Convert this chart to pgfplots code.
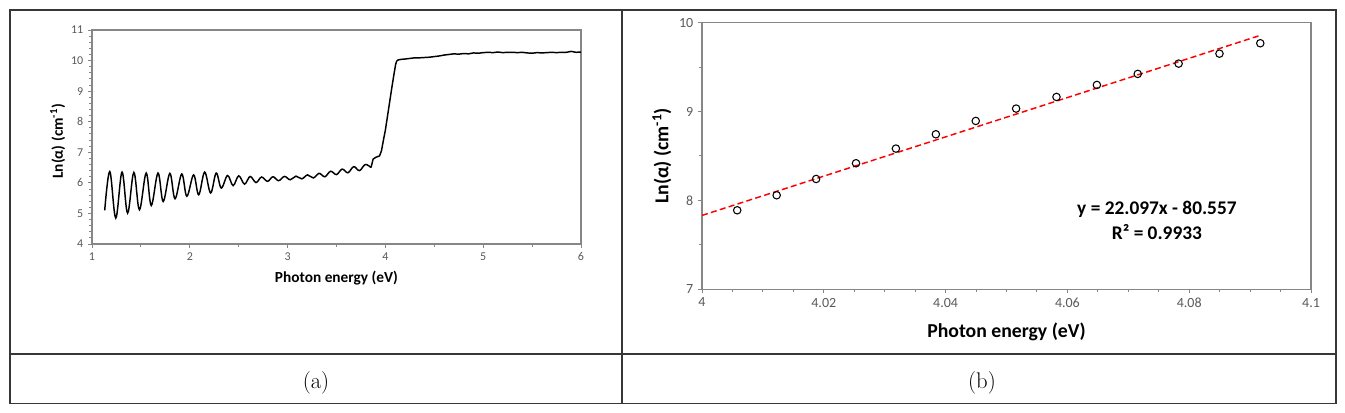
\documentclass[border=0pt]{standalone}
\usepackage{fontspec}
\usepackage{pgfplots}
\pgfplotsset{compat=1.18}
\newfontfamily\carlito{Carlito}
\definecolor{axgray}{RGB}{134,134,134}
\definecolor{tickgray}{RGB}{89,89,89}
\definecolor{tabline}{RGB}{55,55,55}
\pgfplotsset{
  excelax/.style={
    scale only axis, anchor=south west,
    axis line style={axgray, line width=0.8pt},
    every tick/.style={axgray, line width=0.7pt},
    tick align=outside,
    xtick pos=bottom, ytick pos=left,
    major tick length=3pt, minor tick length=2.2pt,
    /pgf/number format/assume math mode=true,
    scaled ticks=false,
    ticklabel style={text=tickgray},
    xlabel style={at={(axis description cs:0.5,-0.16)}, anchor=center},
  },
}
\begin{document}
\begin{tikzpicture}[x=0.75pt,y=0.75pt]
\useasboundingbox (0,0) rectangle (1345,413);
\draw[tabline, line width=1.3pt] (10,403) rectangle (1336,9.5);
\draw[tabline, line width=1.3pt] (622,403) -- (622,9.5);
\draw[tabline, line width=1.3pt] (10,59.3) -- (1336,59.3);
\node[font=\fontsize{17}{20}\selectfont] at (316,30) {(a)};
\node[font=\fontsize{17}{20}\selectfont] at (982,30) {(b)};

% ---------------- panel (a) ----------------
\begin{axis}[excelax,
  at={(69pt,126.75pt)}, width=366.75pt, height=160.5pt,
  xmin=1, xmax=6, ymin=4, ymax=11,
  xtick={1,2,3,4,5,6}, ytick={4,5,6,7,8,9,10,11},
  minor x tick num=1, minor y tick num=4,
  ticklabel style={font=\carlito\fontsize{9}{10}\selectfont},
  label style={font=\carlito\bfseries\fontsize{11.5}{13}\selectfont},
  xlabel={Photon energy (eV)},
  ylabel={Ln(α) (cm\textsuperscript{-1})},
  ylabel style={at={(axis description cs:-0.07,0.48)}, anchor=center},
]
\addplot[black, line width=1.1pt, smooth, tension=0.6] coordinates {
(1.130,5.10) (1.182,6.37) (1.243,4.85) (1.307,6.35) (1.364,5.01)
(1.428,6.34) (1.485,5.12) (1.554,6.32) (1.606,5.26) (1.675,6.32)
(1.728,5.39) (1.796,6.31) (1.849,5.48) (1.918,6.29) (1.970,5.56)
(2.039,6.26) (2.091,5.61) (2.152,6.35) (2.213,5.67) (2.270,6.32)
(2.322,5.83) (2.386,6.24) (2.443,5.91) (2.500,6.23) (2.560,5.96)
(2.617,6.21) (2.677,6.01) (2.734,6.19) (2.795,6.05) (2.850,6.20)
(2.908,6.07) (2.968,6.21) (3.027,6.10) (3.086,6.22) (3.145,6.13)
(3.204,6.26) (3.263,6.16) (3.322,6.31) (3.381,6.20) (3.440,6.38)
(3.500,6.27) (3.558,6.45) (3.617,6.33) (3.676,6.53) (3.735,6.40)
(3.794,6.60) (3.853,6.50)
};
\addplot[black, line width=1.1pt, line join=round] coordinates {
(3.853,6.50) (3.875,6.78) (3.905,6.84) (3.940,6.88) (3.960,7.05)
(3.980,7.40) (4.000,7.73) (4.020,8.15) (4.047,8.72) (4.070,9.20)
(4.090,9.60) (4.105,9.88) (4.115,9.98) (4.130,10.02) (4.160,10.04)
(4.200,10.05) (4.250,10.07) (4.300,10.09) (4.350,10.09) (4.400,10.10)
(4.450,10.11) (4.500,10.13) (4.550,10.15) (4.600,10.18) (4.650,10.20)
(4.700,10.22) (4.750,10.21) (4.800,10.23) (4.850,10.22) (4.900,10.25)
(4.950,10.24) (5.000,10.26) (5.050,10.27) (5.100,10.26) (5.150,10.28)
(5.200,10.26) (5.250,10.27) (5.300,10.27) (5.350,10.26) (5.400,10.27)
(5.450,10.25) (5.500,10.24) (5.550,10.26) (5.600,10.25) (5.650,10.26)
(5.700,10.27) (5.750,10.26) (5.800,10.27) (5.850,10.27) (5.900,10.30)
(5.950,10.27) (6.000,10.28)
};
\end{axis}

% ---------------- panel (b) ----------------
\begin{axis}[excelax,
  at={(526.5pt,92.775pt)}, width=456.75pt, height=200pt,
  xmin=4, xmax=4.1, ymin=7, ymax=10,
  xtick={4,4.02,4.04,4.06,4.08,4.1}, ytick={7,8,9,10},
  minor x tick num=3, minor y tick num=1,
  ticklabel style={font=\carlito\fontsize{10.5}{12}\selectfont},
  label style={font=\carlito\bfseries\fontsize{14.8}{17}\selectfont},
  xlabel={Photon energy (eV)},
  ylabel={Ln(α) (cm\textsuperscript{-1})},
  ylabel style={at={(axis description cs:-0.066,0.5)}, anchor=center},
]
\addplot[red, line width=1.1pt, dash pattern=on 4.5pt off 2.5pt] coordinates {
(4.0000,7.831) (4.0915,9.853)
};
\addplot[only marks, mark=o, mark size=2.8pt, mark options={black, line width=0.8pt}] coordinates {
(4.00578,7.889) (4.01226,8.058) (4.01874,8.241) (4.02529,8.418)
(4.03184,8.583) (4.03840,8.744) (4.04495,8.894) (4.05158,9.033)
(4.05821,9.164) (4.06484,9.299) (4.07155,9.423) (4.07826,9.539)
(4.08497,9.651) (4.09167,9.768)
};
\node[font=\carlito\bfseries\fontsize{14.5}{17}\selectfont] at (axis cs:4.0747,7.904) {y = 22.097x - 80.557};
\node[font=\carlito\bfseries\fontsize{14.5}{17}\selectfont] at (axis cs:4.0747,7.649) {R² = 0.9933};
\end{axis}
\end{tikzpicture}
\end{document}
